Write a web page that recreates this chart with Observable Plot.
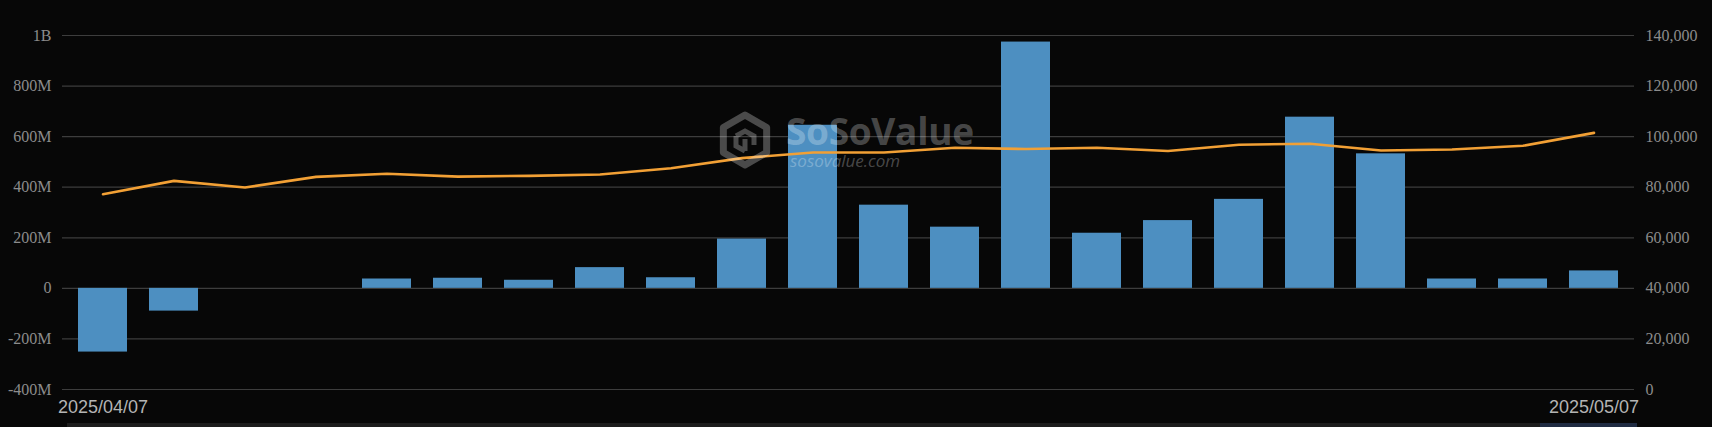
<!DOCTYPE html>
<html>
<head>
<meta charset="utf-8">
<script src="https://cdn.jsdelivr.net/npm/d3@7"></script>
<script src="https://cdn.jsdelivr.net/npm/@observablehq/plot@0.6"></script>
<style>
  html, body { margin: 0; padding: 0; background: #070707; }
  #chart { width: 1712px; height: 427px; overflow: hidden; }
</style>
</head>
<body>
<div id="chart"></div>
<script>
// ---- data ----
const dates = ["2025/04/07","2025/04/08","2025/04/09","2025/04/10","2025/04/11","2025/04/14","2025/04/15","2025/04/16","2025/04/17","2025/04/21","2025/04/22","2025/04/23","2025/04/24","2025/04/25","2025/04/28","2025/04/29","2025/04/30","2025/05/01","2025/05/02","2025/05/05","2025/05/06","2025/05/07"];
// daily total net inflow (USD millions)
const netInflowM = [-252, -90, 0, 0, 37, 40, 32, 82, 42, 195, 645, 329, 242, 974, 218, 268, 352, 677, 532, 37, 37, 69];
// BTC price (USD)
const btcPrice = [77200, 82500, 79900, 84100, 85300, 84200, 84500, 85000, 87500, 91500, 93700, 93700, 95600, 95100, 95600, 94300, 96800, 97200, 94500, 94900, 96400, 101500];
// axis ticks
const leftTicks = [-4e8, -2e8, 0, 2e8, 4e8, 6e8, 8e8, 1e9];
const rightTicks = [0, 20000, 40000, 60000, 80000, 100000, 120000, 140000];
const xTickLabels = ["2025/04/07", "2025/05/07"];

// ---- build table ----
const rows = dates.map((d, i) => ({date: d, flow: netInflowM[i] * 1e6, price: btcPrice[i]}));

// right axis (price 0..140k) aligned with left axis (-400M..1B)
const leftDomain = [-4e8, 1e9];
const rightDomain = [0, 140000];
const priceToLeft = p => leftDomain[0] + (p - rightDomain[0]) / (rightDomain[1] - rightDomain[0]) * (leftDomain[1] - leftDomain[0]);
const leftToPrice = v => rightDomain[0] + (v - leftDomain[0]) / (leftDomain[1] - leftDomain[0]) * (rightDomain[1] - rightDomain[0]);

const fmtLeft = v => {
  if (v === 0) return "0";
  const a = Math.abs(v), s = v < 0 ? "-" : "";
  if (a >= 1e9) return s + (a / 1e9) + "B";
  return s + (a / 1e6) + "M";
};
const fmtRight = v => d3.format(",")(Math.round(leftToPrice(v)));

const serif = "'Liberation Serif', 'Times New Roman', serif";

const chart = Plot.plot({
  width: 1712,
  height: 427,
  marginLeft: 62,
  marginRight: 78,
  marginTop: 35,
  marginBottom: 38,
  style: {background: "#070707", color: "#8c8c8c", overflow: "visible"},
  x: {type: "band", domain: dates, paddingInner: 0.31, paddingOuter: 0.155, axis: null, label: null},
  y: {domain: leftDomain, axis: null, label: null},
  marks: [
    Plot.gridY(leftTicks, {stroke: "#3d3d3d", strokeOpacity: 1, strokeWidth: 1.2}),
    Plot.barY(rows, {x: "date", y: "flow", fill: "#4d8fc1"}),
    Plot.line(rows, {x: "date", y: d => priceToLeft(d.price), stroke: "#f2a035", strokeWidth: 2.6}),
    Plot.axisY(leftTicks, {anchor: "left", tickSize: 0, tickPadding: 11, tickFormat: fmtLeft, label: null,
      fill: "#8c8c8c", fontFamily: serif, fontSize: 16}),
    Plot.axisY(rightTicks.map(priceToLeft), {anchor: "right", tickSize: 0, tickPadding: 11, tickFormat: fmtRight, label: null,
      fill: "#8c8c8c", fontFamily: serif, fontSize: 16}),
    Plot.axisX(xTickLabels, {anchor: "bottom", tickSize: 0, tickPadding: 11, label: null,
      fill: "#b4b4b4", fontFamily: "'Liberation Sans', Arial, sans-serif", fontSize: 18})
  ]
});
document.getElementById("chart").appendChild(chart);

// ---- decorations: watermark + zoom slider strip ----
const svg = d3.select(chart);
const wm = svg.append("g").attr("pointer-events", "none").attr("text-anchor", "start");
const wc = "rgba(255,255,255,0.27)";
const cx = 745, cy = 140, r = 25;
const hex = d3.range(6).map(k => {
  const a = Math.PI / 3 * k - Math.PI / 2;
  return [cx + r * Math.cos(a), cy + r * Math.sin(a)];
});
wm.append("polygon").attr("points", hex.map(p => p.join(",")).join(" "))
  .attr("fill", "none").attr("stroke", wc).attr("stroke-width", 7).attr("stroke-linejoin", "round");
wm.append("path")
  .attr("d", `M${cx-9},${cy-4} L${cx},${cy-9} L${cx+9},${cy-4} L${cx+9},${cy+5} M${cx-9},${cy-4} L${cx-9},${cy+6} L${cx},${cy+11} M${cx},${cy-1} L${cx},${cy+11}`)
  .attr("fill", "none").attr("stroke", wc).attr("stroke-width", 5);
wm.append("text").attr("x", 786).attr("y", 145).attr("text-anchor", "start")
  .attr("font-family", "'Open Sans', sans-serif").attr("font-weight", 700).attr("font-size", 37)
  .attr("letter-spacing", "-0.3").attr("fill", wc).text("SoSoValue");
wm.append("text").attr("x", 790).attr("y", 167).attr("text-anchor", "start")
  .attr("font-family", "'Open Sans', sans-serif").attr("font-style", "italic").attr("font-size", 17)
  .attr("fill", wc).text("sosovalue.com");

svg.append("rect").attr("x", 67).attr("y", 423).attr("width", 1570).attr("height", 4).attr("fill", "#1c1c1c");
svg.append("rect").attr("x", 1540).attr("y", 423).attr("width", 97).attr("height", 4).attr("fill", "#1f2b42");
</script>
</body>
</html>
